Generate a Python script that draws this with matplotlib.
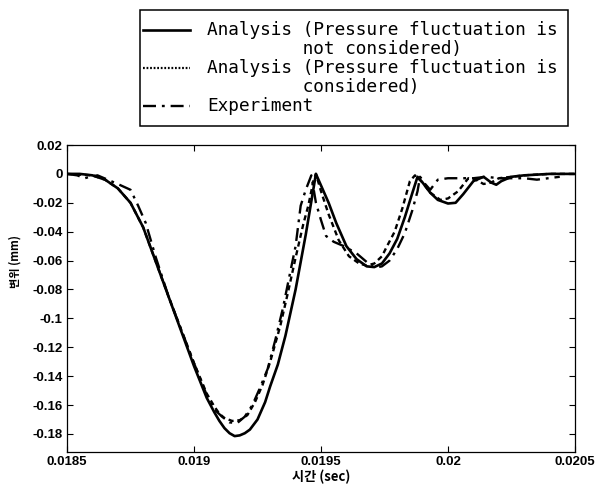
import matplotlib
matplotlib.use("Agg")
import matplotlib.pyplot as plt
from matplotlib.lines import Line2D
from matplotlib.patches import Rectangle

# ---- data ----
x_nopress = [0.01850, 0.01855, 0.01860, 0.01865, 0.01870, 0.01875, 0.01880, 0.01885,
             0.01890, 0.01895, 0.01900, 0.01905, 0.01908, 0.01910, 0.01912, 0.01914,
             0.01916, 0.01918, 0.01920, 0.01922, 0.01925, 0.01928, 0.01930, 0.01933,
             0.01936, 0.01940, 0.01944, 0.01948, 0.01950, 0.01953, 0.01956, 0.01960,
             0.01964, 0.01968, 0.01971, 0.01974, 0.01977, 0.01980, 0.01983, 0.01986,
             0.01988, 0.01990, 0.01993, 0.01996, 0.02000, 0.02003, 0.02006, 0.02010,
             0.02014, 0.02017, 0.02019, 0.02021, 0.02025, 0.02030, 0.02040, 0.02050]
y_nopress = [0.0, 0.0, -0.001, -0.004, -0.010, -0.020, -0.037, -0.061,
             -0.085, -0.109, -0.133, -0.155, -0.165, -0.171, -0.176, -0.1795,
             -0.1815, -0.181, -0.1795, -0.177, -0.170, -0.158, -0.147, -0.132,
             -0.112, -0.080, -0.042, 0.0, -0.008, -0.020, -0.034, -0.050,
             -0.059, -0.064, -0.0645, -0.062, -0.055, -0.045, -0.030, -0.013,
             -0.002, -0.006, -0.013, -0.018, -0.0205, -0.020, -0.014, -0.005,
             -0.002, -0.006, -0.0075, -0.005, -0.002, -0.001, 0.0, 0.0]

x_press = [0.01850, 0.01860, 0.01865, 0.01870, 0.01875, 0.01880, 0.01885, 0.01890,
           0.01895, 0.01900, 0.01905, 0.01908, 0.01910, 0.01912, 0.01915, 0.01918,
           0.01921, 0.01924, 0.01927, 0.01930, 0.01934, 0.01937, 0.01940, 0.01943,
           0.01945, 0.01947, 0.01948, 0.01950, 0.01953, 0.01957, 0.01961, 0.01965,
           0.01968, 0.01971, 0.01974, 0.01976, 0.01979, 0.01982, 0.01985, 0.01987,
           0.01990, 0.01993, 0.01997, 0.02000, 0.02004, 0.02008, 0.02011, 0.02014,
           0.02017, 0.02020, 0.02025, 0.02030, 0.02040, 0.02050]
y_press = [0.0, -0.001, -0.004, -0.010, -0.020, -0.037, -0.061, -0.085,
           -0.108, -0.131, -0.152, -0.161, -0.166, -0.169, -0.171, -0.1705,
           -0.167, -0.158, -0.146, -0.130, -0.105, -0.082, -0.058, -0.035,
           -0.022, -0.005, 0.0, -0.012, -0.028, -0.046, -0.057, -0.062,
           -0.0635, -0.062, -0.057, -0.050, -0.040, -0.024, -0.005, -0.001,
           -0.006, -0.013, -0.018, -0.017, -0.012, -0.003, -0.004, -0.007,
           -0.006, -0.003, -0.002, -0.001, 0.0, 0.0]

x_exp = [0.01850, 0.01854, 0.01857, 0.01859, 0.01862, 0.01866, 0.01870, 0.01875,
         0.01878, 0.01881, 0.01885, 0.01890, 0.01895, 0.01900, 0.01905, 0.01908,
         0.01911, 0.01914, 0.01917, 0.01920, 0.01923, 0.01926, 0.01929, 0.01932,
         0.01935, 0.01938, 0.01940, 0.01942, 0.01944, 0.019462, 0.01948, 0.01950,
         0.01952, 0.01955, 0.01959, 0.01964, 0.01968, 0.01971, 0.01974, 0.01977,
         0.01980, 0.01983, 0.01986, 0.01988, 0.01989, 0.01991, 0.01993, 0.01996,
         0.02000, 0.02005, 0.02010, 0.02015, 0.02020, 0.02030, 0.02035, 0.02044]
y_exp = [0.0, -0.001, -0.003, -0.002, -0.001, -0.004, -0.007, -0.011,
         -0.022, -0.034, -0.058, -0.085, -0.108, -0.131, -0.153, -0.163,
         -0.168, -0.172, -0.1725, -0.168, -0.160, -0.148, -0.135, -0.115,
         -0.093, -0.067, -0.050, -0.022, -0.011, -0.001, -0.020, -0.032,
         -0.043, -0.047, -0.050, -0.055, -0.061, -0.065, -0.064, -0.060,
         -0.052, -0.041, -0.025, -0.012, -0.002, -0.007, -0.011, -0.004,
         -0.003, -0.003, -0.003, -0.002, -0.003, -0.003, -0.004, -0.002]

x_ticks = [0.0185, 0.019, 0.0195, 0.02, 0.0205]
x_ticklabels = ["0.0185", "0.019", "0.0195", "0.02", "0.0205"]
y_ticks = [0.02, 0, -0.02, -0.04, -0.06, -0.08, -0.1, -0.12, -0.14, -0.16, -0.18]
y_ticklabels = ["0.02", "0", "-0.02", "-0.04", "-0.06", "-0.08", "-0.1", "-0.12",
                "-0.14", "-0.16", "-0.18"]

legend_labels = ["Analysis (Pressure fluctuation is\n         not considered)",
                 "Analysis (Pressure fluctuation is\n         considered)",
                 "Experiment"]

# ---- figure ----
fig = plt.figure(figsize=(6.0, 4.84), dpi=100)
ax = fig.add_axes([67/600, 1-452/484, (575-67)/600, (452-145)/484])

style_solid = dict(color="black", lw=1.9, linestyle="-")
style_press = dict(color="black", lw=1.7, linestyle=(0, (2.2, 1.6)))
style_exp = dict(color="black", lw=1.7, linestyle=(0, (5.5, 2.5, 1.2, 2.5)))

ax.plot(x_nopress, y_nopress, **style_solid)
ax.plot(x_press, y_press, **style_press)
ax.plot(x_exp, y_exp, **style_exp)

ax.set_xlim(0.0185, 0.0205)
ax.set_ylim(-0.1925, 0.02)
ax.set_xticks(x_ticks)
ax.set_xticklabels(x_ticklabels)
ax.set_yticks(y_ticks)
ax.set_yticklabels(y_ticklabels)
ax.tick_params(direction="in", length=4, width=0.8, top=True, right=True)
ax.tick_params(axis="y", pad=3)
ax.tick_params(axis="x", pad=3)
for lab in ax.get_xticklabels() + ax.get_yticklabels():
    lab.set_fontfamily("Liberation Sans")
    lab.set_fontweight("bold")
    lab.set_fontsize(9.5)
for sp in ax.spines.values():
    sp.set_linewidth(0.9)

ax.set_xlabel("시간 (sec)", family=["Noto Sans CJK KR", "DejaVu Sans"],
              fontsize=9.5, fontweight="bold")
ax.xaxis.set_label_coords((321-67)/508, -(477-452)/307)
ax.xaxis.label.set_va("center")
ax.set_ylabel("변위 (mm)", family=["Noto Sans CJK KR", "DejaVu Sans"],
              fontsize=8, fontweight="bold")
ax.yaxis.set_label_coords((15-67)/508, (452-262)/307)
ax.yaxis.label.set_va("center")

# ---- legend (outside, above the axes) ----
L, R, T, B = 140/600, 568/600, 1-10/484, 1-126/484
fig.add_artist(Rectangle((L, B), R-L, T-B, transform=fig.transFigure,
                         facecolor="white", edgecolor="black", lw=1.1))
legend_styles = [style_solid,
                 dict(color="black", lw=1.6, linestyle=(0, (0.8, 0.8))),
                 style_exp]
line_y = [1-30/484, 1-68/484, 1-106/484]
for st, ly, lab in zip(legend_styles, line_y, legend_labels):
    fig.add_artist(Line2D([143/600, 190/600], [ly, ly], transform=fig.transFigure, **st))
    fig.text(207/600, ly + 9/484, lab, ha="left", va="top",
             family="DejaVu Sans Mono", fontsize=12.8, linespacing=1.1)

fig.savefig("out.png", dpi=100)
